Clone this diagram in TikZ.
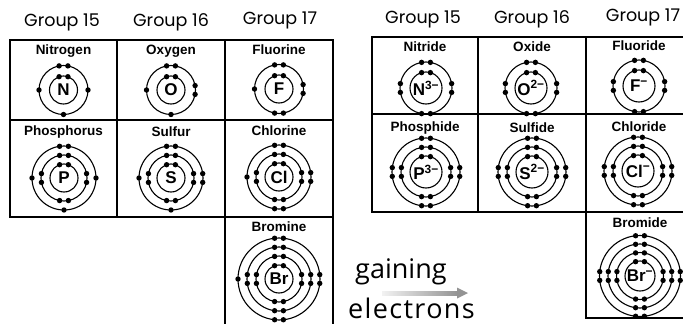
\documentclass[tikz,border=0pt]{standalone}
\usepackage{fontspec}
\setmainfont{Liberation Sans}
\newfontfamily\headfont{Poppins}
\newfontfamily\captionfont{Open Sans}

% one electron or an electron pair on a shell, placed at a given side
\newcommand\elside[4]{% centre, radius, count, angle
  \ifnum#3=1 \fill[electron] (#1) ++(#4:#2) circle[radius=2.7];\fi
  \ifnum#3=2 \pgfmathsetmacro\elang{asin(4.4/#2)}%
    \fill[electron] (#1) ++(#4+\elang:#2) circle[radius=2.7];
    \fill[electron] (#1) ++(#4-\elang:#2) circle[radius=2.7];\fi}
% a shell: ring plus electrons at top, left, right, bottom
\newcommand\elshell[6]{%
  \draw[shell] (#1) circle[radius=#2];
  \elside{#1}{#2}{#3}{270}\elside{#1}{#2}{#4}{180}%
  \elside{#1}{#2}{#5}{0}\elside{#1}{#2}{#6}{90}}

\begin{document}
\begin{tikzpicture}[x=1pt,y=-1pt,
  cell/.style={draw=black,line width=1.1pt},
  shell/.style={draw=black,line width=1.1pt},
  electron/.style={fill=black},
  grouphead/.style={font=\headfont\fontsize{17.5}{17.5}\selectfont,inner sep=0pt},
  elemname/.style={font=\bfseries\fontsize{13.5}{13.5}\selectfont,inner sep=0pt},
  symb/.style={font=\bfseries\fontsize{17}{17}\selectfont,inner sep=0pt},
  caption/.style={font=\captionfont\fontsize{27}{27}\selectfont,inner sep=0pt},
]
\useasboundingbox (0,0) rectangle (683,324);
\fill[white] (0,0) rectangle (683,324);
\clip (0,0) rectangle (683,324);

% ---------- neutral atoms ----------
\node[grouphead] (lg15) at (62,22) {Group 15};
\node[grouphead] (lg16) at (171,22) {Group 16};
\node[grouphead] (lg17) at (280,20) {Group 17};

\draw[cell] (10,40) rectangle (117,120);
\draw[cell] (117,40) rectangle (225,120);
\draw[cell] (225,40) rectangle (333,120);
\draw[cell] (10,120) rectangle (117,217);
\draw[cell] (117,120) rectangle (225,217);
\draw[cell] (225,120) rectangle (333,217);
\draw[cell] (225,217) -- (225,330) (333,217) -- (333,330);

\node[elemname] (tN) at (63.5,51) {Nitrogen};
\node[elemname] (tO) at (171,51) {Oxygen};
\node[elemname] (tF) at (279,50) {Fluorine};
\node[elemname] (tP) at (63.5,132) {Phosphorus};
\node[elemname] (tS) at (171,132) {Sulfur};
\node[elemname] (tCl) at (279,131) {Chlorine};
\node[elemname] (tBr) at (279,227) {Bromine};

\coordinate (aN) at (63.5,90);
\elshell{aN}{14}{2}{0}{0}{0}
\elshell{aN}{24.5}{2}{1}{1}{1}
\node[symb] (sN) at (aN) {N};

\coordinate (aO) at (171,90);
\elshell{aO}{14}{2}{0}{0}{0}
\elshell{aO}{24.5}{2}{1}{2}{1}
\node[symb] (sO) at (aO) {O};

\coordinate (aF) at (279,89);
\elshell{aF}{14}{2}{0}{0}{0}
\elshell{aF}{24.5}{2}{1}{2}{2}
\node[symb] (sF) at (aF) {F};

\coordinate (aP) at (64,178);
\elshell{aP}{14}{2}{0}{0}{0}
\elshell{aP}{23}{2}{2}{2}{2}
\elshell{aP}{32}{2}{1}{1}{1}
\node[symb] (sP) at (aP) {P};

\coordinate (aS) at (171,178);
\elshell{aS}{14}{2}{0}{0}{0}
\elshell{aS}{23}{2}{2}{2}{2}
\elshell{aS}{32}{2}{1}{2}{1}
\node[symb] (sS) at (aS) {S};

\coordinate (aCl) at (279,177);
\elshell{aCl}{14}{2}{0}{0}{0}
\elshell{aCl}{23}{2}{2}{2}{2}
\elshell{aCl}{32}{2}{1}{2}{2}
\node[symb] (sCl) at (aCl) {Cl};

\coordinate (aBr) at (279,279);
\elshell{aBr}{14}{2}{0}{0}{0}
\elshell{aBr}{23}{2}{2}{2}{2}
\elshell{aBr}{32}{2}{2}{2}{2}
\elshell{aBr}{41}{2}{1}{2}{2}
\node[symb] (sBr) at (aBr) {Br};

% ---------- arrow ----------
\node[caption,anchor=base west] (gain) at (355,278) {gaining};
\node[caption,anchor=base west,font=\captionfont\fontsize{27}{27}\selectfont\addfontfeature{LetterSpace=5}] (elec) at (348,318) {electrons};
\coordinate (arA) at (382,293);
\coordinate (arB) at (468,293);
\shade[left color=gray!10,right color=gray!85] ([yshift=-2pt]arA) rectangle ([xshift=-10pt,yshift=2pt]arB);
\fill[gray!85] ([xshift=-11pt,yshift=-5.5pt]arB) -- (arB) -- ([xshift=-11pt,yshift=5.5pt]arB) -- cycle;

% ---------- ions ----------
\node[grouphead] (rg15) at (423,19) {Group 15};
\node[grouphead] (rg16) at (532,19) {Group 16};
\node[grouphead] (rg17) at (643,17) {Group 17};

\draw[cell] (372,37) rectangle (478,114);
\draw[cell] (478,37) rectangle (586,114);
\draw[cell] (586,37) rectangle (700,114);
\draw[cell] (372,114) rectangle (478,212);
\draw[cell] (478,114) rectangle (586,212);
\draw[cell] (586,114) rectangle (700,212);
\draw[cell] (586,212) rectangle (700,318);

\node[elemname] (tN3) at (425,47) {Nitride};
\node[elemname] (tO2) at (532,47) {Oxide};
\node[elemname] (tF1) at (639,46) {Fluoride};
\node[elemname] (tP3) at (425,128) {Phosphide};
\node[elemname] (tS2) at (532,128) {Sulfide};
\node[elemname] (tCl1) at (639,127) {Chloride};
\node[elemname] (tBr1) at (640,223) {Bromide};

\coordinate (iN) at (426,88);
\elshell{iN}{16}{2}{0}{0}{0}
\elshell{iN}{26}{2}{2}{2}{2}
\node[symb] (siN) at (iN) {N\textsuperscript{3−}};

\coordinate (iO) at (531,88);
\elshell{iO}{16}{2}{0}{0}{0}
\elshell{iO}{26}{2}{2}{2}{2}
\node[symb] (siO) at (iO) {O\textsuperscript{2−}};

\coordinate (iF) at (639,86);
\elshell{iF}{16}{2}{0}{0}{0}
\elshell{iF}{26}{2}{2}{2}{2}
\node[symb] (siF) at (iF) {F\textsuperscript{−}};

\coordinate (iP) at (426,172);
\elshell{iP}{16}{2}{0}{0}{0}
\elshell{iP}{25}{2}{2}{2}{2}
\elshell{iP}{34}{2}{2}{2}{2}
\node[symb] (siP) at (iP) {P\textsuperscript{3−}};

\coordinate (iS) at (532,172);
\elshell{iS}{16}{2}{0}{0}{0}
\elshell{iS}{25}{2}{2}{2}{2}
\elshell{iS}{34}{2}{2}{2}{2}
\node[symb] (siS) at (iS) {S\textsuperscript{2−}};

\coordinate (iCl) at (638,171);
\elshell{iCl}{16}{2}{0}{0}{0}
\elshell{iCl}{25}{2}{2}{2}{2}
\elshell{iCl}{34}{2}{2}{2}{2}
\node[symb] (siCl) at (iCl) {Cl\textsuperscript{−}};

\coordinate (iBr) at (640,276);
\elshell{iBr}{15}{2}{0}{0}{0}
\elshell{iBr}{23.5}{2}{2}{2}{2}
\elshell{iBr}{32}{2}{2}{2}{2}
\elshell{iBr}{40.5}{2}{2}{2}{2}
\node[symb] (siBr) at (iBr) {Br\textsuperscript{−}};
\end{tikzpicture}
\end{document}
